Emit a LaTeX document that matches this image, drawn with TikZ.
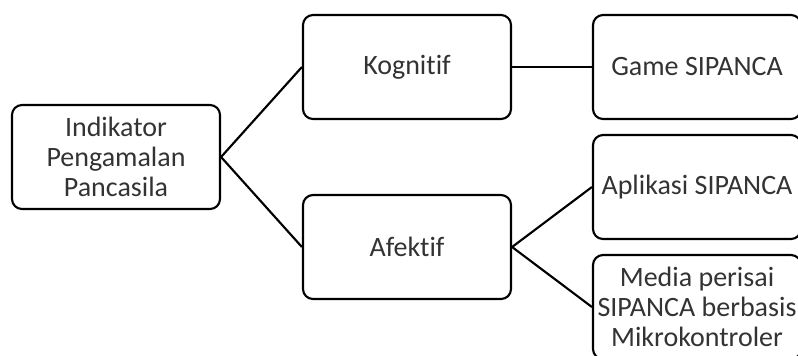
\documentclass[tikz,border=0pt]{standalone}
\usepackage{fontspec}
\setmainfont[Ligatures={NoCommon}]{Carlito}
\usepackage{tikz}
\usetikzlibrary{positioning}

\begin{document}
\begin{tikzpicture}[x=0.75pt,y=-0.75pt,
  box/.style={draw, line width=1.6pt, rounded corners=7.5pt,
    minimum width=156pt, minimum height=78pt, inner sep=2pt,
    align=center, text=black!80, font=\fontsize{21}{22.5}\selectfont},
  link/.style={line width=1.6pt}]

  \clip (0,0) rectangle (798,355);

  % root and the two domains
  \node[box] (ind) at (116,157) {Indikator\\Pengamalan\\Pancasila};
  \node[box] (kog) at (407,67) {Kognitif};
  \node[box] (afe) at (407,247) {Afektif};

  % media
  \node[box] (game) at (697,67) {Game SIPANCA};
  \node[box] (apl) at (697,187) {Aplikasi SIPANCA};
  \node[box] (med) at (697,307) {Media perisai\\SIPANCA berbasis\\Mikrokontroler};

  \draw[link] (ind.east) -- (kog.west);
  \draw[link] (ind.east) -- (afe.west);
  \draw[link] (kog.east) -- (game.west);
  \draw[link] (afe.east) -- (apl.west);
  \draw[link] (afe.east) -- (med.west);
\end{tikzpicture}
\end{document}
